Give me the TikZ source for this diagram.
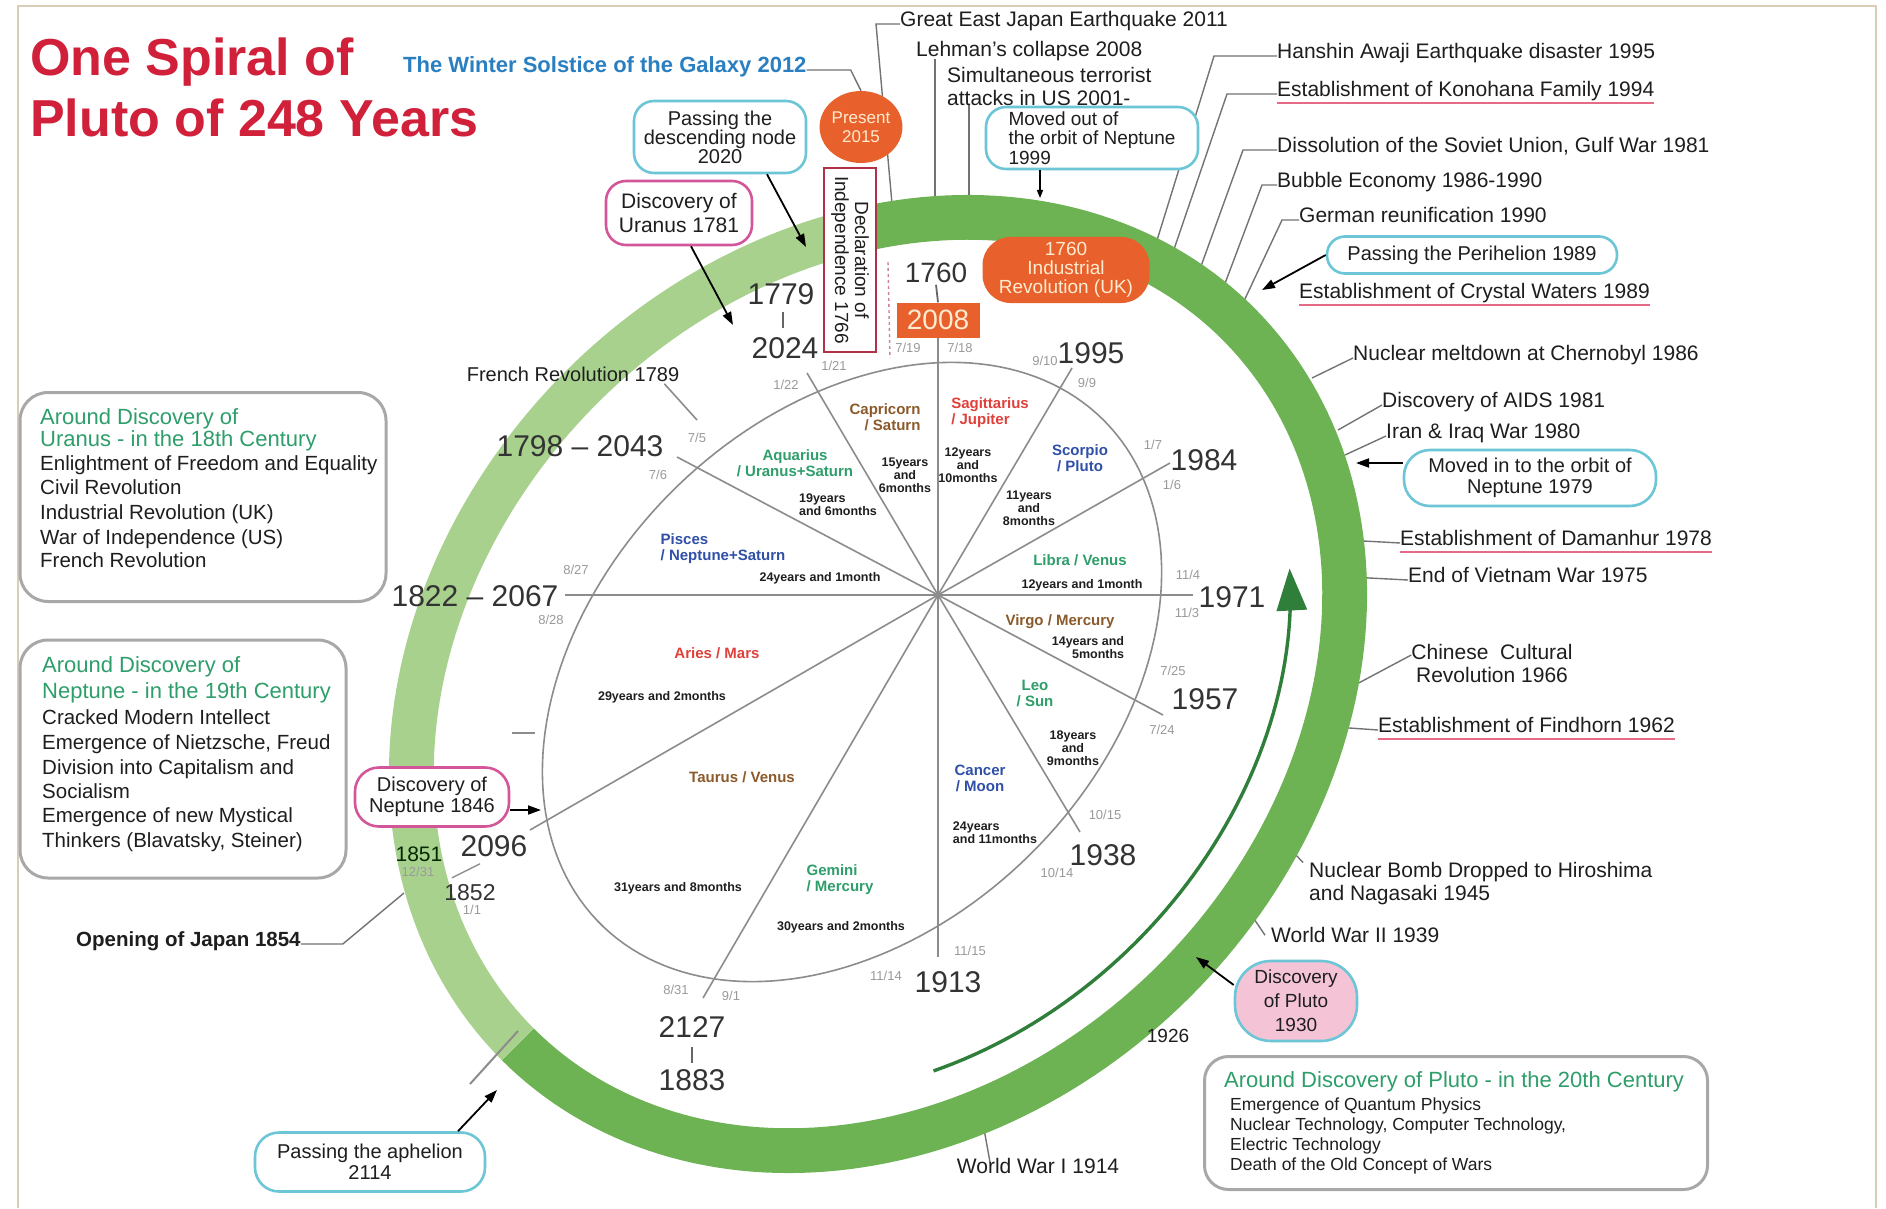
\documentclass[tikz,border=0pt]{standalone}
\usepackage{fontspec}
\setmainfont{Liberation Sans}
\usetikzlibrary{arrows.meta,shapes.geometric}

\definecolor{titlered}{HTML}{D0203A}
\definecolor{solblue}{HTML}{2A7FC0}
\definecolor{headgreen}{HTML}{2E9E6A}
\definecolor{boxgray}{HTML}{A8A8A8}
\definecolor{pillcyan}{HTML}{6CC6D6}
\definecolor{pillmag}{HTML}{D4569A}
\definecolor{declred}{HTML}{B03048}
\definecolor{orng}{HTML}{E8612C}
\definecolor{orngtext}{HTML}{FFEBD0}
\definecolor{ulred}{HTML}{E46A86}
\definecolor{banddark}{HTML}{6DB253}
\definecolor{bandlight}{HTML}{A9D18E}
\definecolor{arrowgreen}{HTML}{2F7F3A}
\definecolor{spoke}{HTML}{8C8C8C}
\definecolor{datefg}{HTML}{9A9A9A}
\definecolor{signred}{HTML}{E0403A}
\definecolor{signbrown}{HTML}{8B5A2B}
\definecolor{signgreen}{HTML}{2E9E6A}
\definecolor{signblue}{HTML}{3050A8}
\definecolor{plutopink}{HTML}{F4C4D6}
\definecolor{framecol}{HTML}{D9CDB5}
\definecolor{ink}{HTML}{1E1E1E}
\definecolor{yearink}{HTML}{333333}

% point of the tilted orbit ellipse (centre 878,684): angle, semi-major, semi-minor
\pgfmathdeclarefunction{orbx}{3}{\pgfmathparse{878+0.7071*(#2*cos(#1)+#3*sin(#1))}}
\pgfmathdeclarefunction{orby}{3}{\pgfmathparse{684+0.7071*(#3*sin(#1)-#2*cos(#1))}}

\pgfdeclarelayer{paper}
\pgfdeclarelayer{orbit}
\pgfsetlayers{paper,orbit,main}

\tikzset{
  every node/.style={inner sep=0pt, text=ink},
  oneline/.style={text height=0.72em, text depth=0.2em},
  ev/.style={oneline, font=\fontsize{21}{22}\selectfont, anchor=west, yshift=-3pt},
  evtwo/.style={font=\fontsize{21}{23}\selectfont},
  tie/.style={draw=black!55, line width=1.4pt},
  spk/.style={draw=spoke, line width=1.6pt},
  yr/.style={oneline, font=\fontsize{30}{32}\selectfont, text=yearink, yshift=-7pt},
  dt/.style={oneline, font=\fontsize{13}{14}\selectfont, text=datefg},
  sign/.style={font=\bfseries\fontsize{15}{16}\selectfont},
  dur/.style={font=\bfseries\fontsize{12.5}{13}\selectfont, align=center},
  pill/.style={draw=pillcyan, line width=2.6pt, fill=white, rounded corners=20pt, align=center, font=\fontsize{20}{21}\selectfont},
  magpill/.style={pill, draw=pillmag},
  era/.style={draw=boxgray, line width=3pt, rounded corners=28pt},
  erahead/.style={oneline, font=\fontsize{22}{23}\selectfont, text=headgreen, anchor=west},
  eraline/.style={oneline, font=\fontsize{20.5}{22}\selectfont, anchor=west},
  smallline/.style={oneline, font=\fontsize{17.5}{19}\selectfont, anchor=west},
  uline/.style={draw=ulred, line width=1.6pt},
  ptr/.style={draw=black, line width=1.8pt, -{Triangle[length=13pt,width=9pt]}},
  orngbox/.style={fill=orng, text=orngtext, align=center},
  yeartick/.style={draw=black!60, line width=1.8pt},
}

\begin{document}
\begin{tikzpicture}[x=1pt,y=-1pt]
\begin{pgfonlayer}{paper}
\fill[white] (0,0) rectangle (1886,1208);
\draw[framecol, line width=1.5pt] (18,1208) -- (18,6) -- (1876,6) -- (1876,1208);
\end{pgfonlayer}
\useasboundingbox (0,0) rectangle (1886,1208);

% ---------- title ----------
\node[anchor=base west, font=\bfseries\fontsize{52}{56}\selectfont, text=titlered] (title1) at (30,76) {One Spiral of};
\node[anchor=base west, font=\bfseries\fontsize{52}{56}\selectfont, text=titlered] (title2) at (30,137) {Pluto of 248 Years};

% ---------- event labels around the orbit ----------
\node[oneline, anchor=west, font=\bfseries\fontsize{22}{23}\selectfont, text=solblue] (wsg) at (403,70) {The Winter Solstice of the Galaxy 2012};
\node[ev] (gej) at (900,21) {Great East Japan Earthquake 2011};
\node[ev] (leh) at (916,51) {Lehman’s collapse 2008};
\node[evtwo, anchor=west, align=left] (sim) at (947,86) {Simultaneous terrorist\\attacks in US 2001-};
\node[ev] (han) at (1277,53) {Hanshin Awaji Earthquake disaster 1995};
\node[ev] (kon) at (1277,91) {Establishment of Konohana Family 1994};
\node[ev] (sov) at (1277,147) {Dissolution of the Soviet Union, Gulf War 1981};
\node[ev] (bub) at (1277,182) {Bubble Economy 1986-1990};
\node[ev] (ger) at (1299,217) {German reunification 1990};
\node[ev] (cry) at (1299,293) {Establishment of Crystal Waters 1989};
\node[ev] (che) at (1353,355) {Nuclear meltdown at Chernobyl 1986};
\node[ev] (aid) at (1382,402) {Discovery of AIDS 1981};
\node[ev] (ira) at (1386,433) {Iran \& Iraq War 1980};
\node[ev] (dam) at (1400,540) {Establishment of Damanhur 1978};
\node[ev] (vie) at (1408,577) {End of Vietnam War 1975};
\node[evtwo, align=center] (chi) at (1492,663) {Chinese\ \ Cultural\\Revolution 1966};
\node[ev] (fin) at (1378,727) {Establishment of Findhorn 1962};
\node[evtwo, anchor=west, align=left] (nuk) at (1309,884) {Nuclear Bomb Dropped to Hiroshima\\and Nagasaki 1945};
\node[ev] (ww2) at (1271,937) {World War II 1939};
\node[oneline, font=\fontsize{19}{20}\selectfont] (w26) at (1168,1040) {1926};
\node[oneline, font=\fontsize{21}{22}\selectfont] (ww1) at (1038,1171) {World War I 1914};
\node[oneline, anchor=west, font=\bfseries\fontsize{20.5}{22}\selectfont] (jap) at (76,944) {Opening of Japan 1854};
\node[oneline, font=\fontsize{20}{22}\selectfont] (fr) at (573,379) {French Revolution 1789};

% underlines of the community foundings
\foreach \n in {kon,cry,dam,fin}
  \draw[uline] ([yshift=-4pt]\n.south west) -- ([yshift=-4pt]\n.south east);

% ---------- year labels ----------
\node[orngbox, minimum width=83pt, minimum height=35pt, font=\fontsize{28}{30}\selectfont] (box2008) at (938,320) {2008};
\node[yr, font=\fontsize{28}{30}\selectfont] (y1760) at (936,273) {1760};
\node[yr] (y1779) at (781,295) {1779};
\node[yr] (y2024) at (785,349) {2024};
\node[yr] (y1995) at (1091,354) {1995};
\node[yr] (y1984) at (1204,461) {1984};
\node[yr] (y1971) at (1232,598) {1971};
\node[yr] (y1957) at (1205,700) {1957};
\node[yr] (y1938) at (1103,856) {1938};
\node[yr] (y1913) at (948,983) {1913};
\node[yr] (y2127) at (692,1028) {2127};
\node[yr] (y1883) at (692,1081) {1883};
\node[yr] (y2096) at (494,847) {2096};
\node[yr, font=\fontsize{23}{25}\selectfont] (y1852) at (470,891) {1852};
\node[yr, font=\fontsize{21}{23}\selectfont, text=black!60!green!40!black] (y1851) at (419,852) {1851};
\node[yr] (y2067) at (475,597) {1822 – 2067};
\node[yr] (y2043) at (580,447) {1798 – 2043};

% ---------- sign change dates ----------
\node[dt] (d719) at (908,350) {7/19};
\node[dt] (d718) at (960,350) {7/18};
\node[dt] (d910) at (1045,363) {9/10};
\node[dt] (d99) at (1087,385) {9/9};
\node[dt] (d17) at (1153,447) {1/7};
\node[dt] (d16) at (1172,487) {1/6};
\node[dt] (d114) at (1188,577) {11/4};
\node[dt] (d113) at (1187,615) {11/3};
\node[dt] (d725) at (1173,673) {7/25};
\node[dt] (d724) at (1162,732) {7/24};
\node[dt] (d1015) at (1105,817) {10/15};
\node[dt] (d1014) at (1057,875) {10/14};
\node[dt] (d1115) at (970,953) {11/15};
\node[dt] (d1114) at (886,978) {11/14};
\node[dt] (d831) at (676,992) {8/31};
\node[dt] (d91) at (731,998) {9/1};
\node[dt] (d11) at (472,912) {1/1};
\node[dt] (d1231) at (418,874) {12/31};
\node[dt] (d827) at (576,572) {8/27};
\node[dt] (d828) at (551,622) {8/28};
\node[dt] (d75) at (697,440) {7/5};
\node[dt] (d76) at (658,477) {7/6};
\node[dt] (d121) at (834,368) {1/21};
\node[dt] (d122) at (786,387) {1/22};

% ---------- signs and their rulers ----------
\node[sign, text=signbrown, align=right] (sgCap) at (885,417) {Capricorn\\/ Saturn};
\node[sign, text=signred, align=left] (sgSag) at (990,413) {Sagittarius\\/ Jupiter};
\node[sign, text=signblue, align=center] (sgSco) at (1080,458) {Scorpio\\/ Pluto};
\node[sign, text=signgreen] (sgLib) at (1080,560) {Libra / Venus};
\node[sign, text=signbrown] (sgVir) at (1060,622) {Virgo / Mercury};
\node[sign, text=signgreen, align=center] (sgLeo) at (1035,693) {Leo\\/ Sun};
\node[sign, text=signblue, align=center] (sgCan) at (980,778) {Cancer\\/ Moon};
\node[sign, text=signgreen, align=left] (sgGem) at (840,880) {Gemini\\/ Mercury};
\node[sign, text=signbrown] (sgTau) at (742,777) {Taurus / Venus};
\node[sign, text=signred] (sgAri) at (717,653) {Aries / Mars};
\node[sign, text=signblue, align=left] (sgPis) at (723,549) {Pisces\\/ Neptune+Saturn};
\node[sign, text=signgreen, align=center] (sgAqu) at (795,463) {Aquarius\\/ Uranus+Saturn};

% ---------- durations ----------
\node[dur] (drCap) at (905,475) {15years\\and\\6months};
\node[dur] (drSag) at (968,465) {12years\\and\\10months};
\node[dur] (drSco) at (1029,508) {11years\\and\\8months};
\node[dur] (drLib) at (1082,585) {12years and 1month};
\node[dur, align=right] (drVir) at (1088,648) {14years and\\5months};
\node[dur] (drLeo) at (1073,748) {18years\\and\\9months};
\node[dur, align=left] (drCan) at (995,833) {24years\\and 11months};
\node[dur] (drGem) at (841,927) {30years and 2months};
\node[dur] (drTau) at (678,888) {31years and 8months};
\node[dur] (drAri) at (662,697) {29years and 2months};
\node[dur] (drPis) at (820,578) {24years and 1month};
\node[dur, align=left] (drAqu) at (838,505) {19years\\and 6months};

% ---------- boxes ----------
\node[draw=declred, line width=2.2pt, fill=white, rotate=-90, minimum width=184pt, minimum height=52pt, align=center, font=\fontsize{19}{20}\selectfont] (decl) at (850,260) {Declaration of\\Independence 1766};
\node[ellipse, fill=orng, text=orngtext, minimum width=82pt, minimum height=72pt, align=center, font=\fontsize{17}{19}\selectfont] (pres) at (861,127) {Present\\2015};
\node[orngbox, rounded corners=28pt, minimum width=167pt, minimum height=66pt, font=\fontsize{19}{19}\selectfont] (indr) at (1066,270) {1760\\Industrial\\Revolution (UK)};
\node[pill, minimum width=172pt, minimum height=72pt, font=\fontsize{20}{19}\selectfont] (desc) at (720,137) {Passing the\\descending node\\2020};
\node[magpill, minimum width=146pt, minimum height=64pt, font=\fontsize{21}{24}\selectfont] (uran) at (679,213) {Discovery of\\Uranus 1781};
\node[pill, minimum width=212pt, minimum height=62pt, align=left, font=\fontsize{19}{19.5}\selectfont] (movo) at (1092,138) {Moved out of\\the orbit of Neptune\\1999};
\node[pill, rounded corners=18pt, minimum width=290pt, minimum height=37pt] (peri) at (1472,255) {Passing the Perihelion 1989};
\node[pill, rounded corners=26pt, minimum width=252pt, minimum height=56pt] (movi) at (1530,478) {Moved in to the orbit of\\Neptune 1979};
\node[pill, fill=plutopink, rounded corners=36pt, minimum width=122pt, minimum height=80pt, font=\fontsize{19}{24}\selectfont] (plu) at (1296,1001) {Discovery\\of Pluto\\1930};
\node[magpill, rounded corners=24pt, minimum width=154pt, minimum height=59pt] (nep) at (432,797) {Discovery of\\Neptune 1846};
\node[pill, rounded corners=24pt, minimum width=230pt, minimum height=59pt] (aph) at (370,1162) {Passing the aphelion\\2114};

% ---------- century panels ----------
\node[era, minimum width=366pt, minimum height=209pt] (eraU) at (203,497) {};
\node[erahead] (eraU1) at (40,422) {Around Discovery of};
\node[erahead] (eraU2) at (40,444) {Uranus - in the 18th Century};
\node[eraline] (eraU3) at (40,468) {Enlightment of Freedom and Equality};
\node[eraline] (eraU4) at (40,492) {Civil Revolution};
\node[eraline] (eraU5) at (40,517) {Industrial Revolution (UK)};
\node[eraline] (eraU6) at (40,542) {War of Independence (US)};
\node[eraline] (eraU7) at (40,565) {French Revolution};

\node[era, minimum width=326pt, minimum height=238pt] (eraN) at (183,759) {};
\node[erahead] (eraN1) at (42,670) {Around Discovery of};
\node[erahead] (eraN2) at (42,696) {Neptune - in the 19th Century};
\node[eraline] (eraN3) at (42,722) {Cracked Modern Intellect};
\node[eraline] (eraN4) at (42,747) {Emergence of Nietzsche, Freud};
\node[eraline] (eraN5) at (42,772) {Division into Capitalism and};
\node[eraline] (eraN6) at (42,796) {Socialism};
\node[eraline] (eraN7) at (42,820) {Emergence of new Mystical};
\node[eraline] (eraN8) at (42,845) {Thinkers (Blavatsky, Steiner)};

\node[era, minimum width=503pt, minimum height=133pt, rounded corners=24pt] (eraP) at (1456,1123) {};
\node[erahead] (eraP1) at (1224,1085) {Around Discovery of Pluto - in the 20th Century};
\node[smallline] (eraP2) at (1230,1108) {Emergence of Quantum Physics};
\node[smallline] (eraP3) at (1230,1128) {Nuclear Technology, Computer Technology,};
\node[smallline] (eraP4) at (1230,1148) {Electric Technology};
\node[smallline] (eraP5) at (1230,1168) {Death of the Old Concept of Wars};

% ---------- leader lines, orbit band and inner chart (below the texts) ----------
\coordinate (b-gej) at (893,215);
\coordinate (b-leh) at (935,215);
\coordinate (b-sim) at (969,215);
\coordinate (b-han) at (1154,250);
\coordinate (b-kon) at (1171,258);
\coordinate (b-sov) at (1196,280);
\coordinate (b-bub) at (1215,310);
\coordinate (b-ger) at (1236,318);
\coordinate (b-che) at (1312,378);
\coordinate (b-aid) at (1338,430);
\coordinate (b-ira) at (1345,455);
\coordinate (b-dam) at (1345,540);
\coordinate (b-vie) at (1350,577);
\coordinate (b-chi) at (1338,694);
\coordinate (b-fin) at (1335,727);
\coordinate (b-nuk) at (1278,836);
\coordinate (b-ww2) at (1240,898);
\coordinate (b-w26) at (1145,988);
\coordinate (b-ww1) at (982,1118);
\coordinate (b-jap) at (404,893);

\coordinate (hub) at (938,595);
\coordinate (e1995) at (1072,368);
\coordinate (e1984) at (1170,463);
\coordinate (e1971) at (1193,595);
\coordinate (e1957) at (1163,715);
\coordinate (e1938) at (1080,832);
\coordinate (e1913) at (938,957);
\coordinate (e2127) at (703,998);
\coordinate (e2096) at (530,830);
\coordinate (e2067) at (565,595);
\coordinate (e2043) at (677,457);
\coordinate (e2024) at (807,373);
\coordinate (e-fr) at (697,420);

% short ticks joining paired years
\coordinate (tk1779a) at (783,312);
\coordinate (tk1779b) at (783,328);
\coordinate (tk2127a) at (692,1047);
\coordinate (tk2127b) at (692,1063);

\begin{pgfonlayer}{orbit}
\draw[tie] (gej.west) -- ++(-24,0) -- (b-gej);
\draw[tie] (wsg.east) -- ++(44,0) -- (pres.north);
\draw[tie] ([xshift=19pt]leh.south west) -- (b-leh);
\draw[tie] ([xshift=22pt]sim.south west) -- (b-sim);
\draw[tie] (han.west) -- ++(-63,0) -- (b-han);
\draw[tie] (kon.west) -- ++(-50,0) -- (b-kon);
\draw[tie] (sov.west) -- ++(-34,0) -- (b-sov);
\draw[tie] (bub.west) -- ++(-15,0) -- (b-bub);
\draw[tie] (ger.west) -- ++(-17,0) -- (b-ger);
\draw[tie] (che.west) -- (b-che);
\draw[tie] (aid.west) -- (b-aid);
\draw[tie] (ira.west) -- (b-ira);
\draw[tie] (dam.west) -- (b-dam);
\draw[tie] (vie.west) -- (b-vie);
\draw[tie] ([yshift=8pt]chi.west) -- (b-chi);
\draw[tie] (fin.west) -- (b-fin);
\draw[tie] ([xshift=-6pt]nuk.north west) -- (b-nuk);
\draw[tie] ([xshift=-6pt]ww2.north west) -- (b-ww2);
\draw[tie] ([xshift=-8pt,yshift=12pt]w26.north) -- (b-w26);
\draw[tie] ([xshift=-48pt,yshift=4pt]ww1.north) -- (b-ww1);
\draw[tie] (jap.east) -- ++(42,0) -- (b-jap);

% the orbit band: later part dark, earlier part light
\fill[banddark] plot[domain=-54:180, samples=160] ({orbx(\x,532,442)},{orby(\x,532,442)})
  -- plot[domain=0:234, samples=160] ({orbx(180-\x,487,397)},{orby(180-\x,487,397)}) -- cycle;
\fill[bandlight] plot[domain=180:306, samples=100] ({orbx(\x,532,442)},{orby(\x,532,442)})
  -- plot[domain=0:126, samples=100] ({orbx(306-\x,487,397)},{orby(306-\x,487,397)}) -- cycle;
\draw[black!45, line width=2pt] (470,1084) -- (518,1031);

% direction of motion
\draw[arrowgreen, line width=3.4pt, -{Triangle[length=42pt,width=30pt]}]
  plot[domain=0:86, samples=60] ({orbx(121-\x,455,365)},{orby(121-\x,455,365)});

% inner orbit and the spokes of the signs
\draw[spk] plot[domain=0:360, samples=180] ({852+0.7071*(356*cos(\x)+255*sin(\x))},{672+0.7071*(255*sin(\x)-356*cos(\x))}) -- cycle;
\foreach \e in {e1995,e1984,e1971,e1957,e1938,e1913,e2127,e2096,e2067,e2043,e2024}
  \draw[spk] (hub) -- (\e);
\draw[spk] (hub) -- (box2008.south);
\draw[spk] ([xshift=-15pt]fr.south east) -- (e-fr);
\draw[spk] (512,733) -- (535,733);
\draw[declred!60, line width=1.4pt, dashed] (888,262) -- (890,358);
\draw[spk, line width=1.4pt] (y2096.south) ++(-14,5) -- ++(-28,14);
\end{pgfonlayer}

\draw[yeartick] (y1760.south) -- (box2008.north);
\draw[yeartick] (tk1779a) -- (tk1779b);
\draw[yeartick] (tk2127a) -- (tk2127b);

% ---------- pointers ----------
\coordinate (t-desc) at (806,247);
\coordinate (t-uran) at (733,325);
\coordinate (t-movo) at (1040,198);
\coordinate (t-peri) at (1262,290);
\coordinate (t-movi) at (1356,463);
\coordinate (t-plu) at (1196,957);
\coordinate (t-nep) at (541,810);
\coordinate (t-aph) at (497,1090);
\draw[ptr] ([xshift=47pt]desc.south) -- (t-desc);
\draw[ptr] ([xshift=12pt]uran.south) -- (t-uran);
\draw[ptr, -{Triangle[length=8pt,width=6pt]}, line width=1.2pt] ([xshift=-52pt]movo.south) -- (t-movo);
\draw[ptr] (peri.west) -- (t-peri);
\draw[ptr] ([yshift=15pt]movi.west) -- (t-movi);
\draw[ptr] ([yshift=16pt]plu.west) -- (t-plu);
\draw[ptr] ([yshift=-13pt]nep.east) -- (t-nep);
\draw[ptr] ([xshift=88pt]aph.north) -- (t-aph);
\end{tikzpicture}
\end{document}
